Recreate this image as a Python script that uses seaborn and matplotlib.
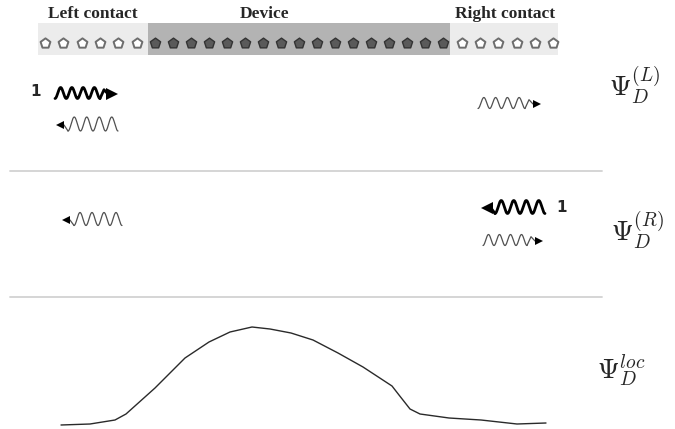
import numpy as np
import pandas as pd
import matplotlib
matplotlib.use("Agg")
import matplotlib.pyplot as plt
import seaborn as sns

# --- data (pixel coordinates) ---
left_atoms_x = [45, 63, 82, 100, 118, 137]
device_atoms_x = [155, 173, 191, 209, 227, 245, 263, 281, 299, 317, 335, 353, 371, 389, 407, 425, 443]
right_atoms_x = [462, 480, 498, 517, 535, 553]
atom_y = 43

region_labels = ["Left contact", "Device", "Right contact"]
region_label_x = [93, 265, 505]

curve_x = [61, 90, 115, 126, 155, 185, 209, 230, 252, 270, 291, 313, 338, 363,
           392, 399, 410, 420, 449, 481, 517, 546]
curve_y = [425, 424, 420, 414, 388, 358, 342, 332, 327, 329, 333, 340, 353, 367,
           386, 395, 409, 414, 418, 420, 424, 423]

psi_labels = [r"$\Psi_D^{(L)}$", r"$\Psi_D^{(R)}$", r"$\Psi_D^{loc}$"]
psi_x = [609, 611, 597]
psi_y = [85, 230, 371]

sep_y = [171, 297]

sns.set_theme(style="white")
plt.rcParams["mathtext.fontset"] = "cm"

fig = plt.figure(figsize=(6.75, 4.29), dpi=100)
ax = fig.add_axes([0, 0, 1, 1])
ax.set_xlim(0, 675)
ax.set_ylim(429, 0)
ax.axis("off")

# band behind the atoms
ax.axvspan(38, 148, ymin=1 - 55 / 429, ymax=1 - 23 / 429, color="#ececec", lw=0)
ax.axvspan(148, 450, ymin=1 - 55 / 429, ymax=1 - 23 / 429, color="#b3b3b3", lw=0)
ax.axvspan(450, 558, ymin=1 - 55 / 429, ymax=1 - 23 / 429, color="#ececec", lw=0)

atoms = pd.DataFrame({
    "x": left_atoms_x + device_atoms_x + right_atoms_x,
    "kind": ["contact"] * len(left_atoms_x) + ["device"] * len(device_atoms_x)
            + ["contact"] * len(right_atoms_x),
})
atoms["y"] = atom_y
sns.scatterplot(data=atoms[atoms.kind == "contact"], x="x", y="y", ax=ax,
                marker="p", s=55, color="white", edgecolor="#6e6e6e", linewidth=1.4)
sns.scatterplot(data=atoms[atoms.kind == "device"], x="x", y="y", ax=ax,
                marker="p", s=60, color="#5a5a5a", edgecolor="#333333", linewidth=1.0)

for lab, lx in zip(region_labels, region_label_x):
    ax.text(lx, 14, lab, ha="center", va="center", fontsize=12.5,
            family="Liberation Serif", fontweight="bold")

# separators
for sy in sep_y:
    ax.plot([10, 602], [sy, sy], color="#d2d2d2", lw=1.3)


def wave(x0, x1, yc, amp, direction, thick):
    # little squiggle glyph with an arrowhead
    t = np.linspace(0, 4 * 2 * np.pi, 200)
    wx = x0 + (x1 - x0) * t / t[-1]
    wy = yc + amp * np.cos(t)
    col = "black" if thick else "#505050"
    lw = 2.0 if thick else 0.9
    if direction > 0:
        ax.plot(wx, wy, color=col, lw=lw)
        tx = [x1, x1 + 4, x1 + 8]
        ty = [yc + amp, yc - amp * 0.6, yc + 1]
        ax.plot(tx, ty, color=col, lw=lw)
        ax.plot([x1 + 12], [yc + 1], marker=">", color="black",
                ms=8 if thick else 6, mew=0)
    else:
        ax.plot(wx, wy, color=col, lw=lw)
        ax.plot([x0 - 4, x0], [yc + 1, yc + amp], color=col, lw=lw)
        ax.plot([x0 - 8], [yc + 1], marker="<", color="black",
                ms=8 if thick else 6, mew=0)


wave(55, 100, 93, 5.5, 1, True)
wave(68, 118, 124, 7, -1, False)
wave(478, 525, 103, 5.5, 1, False)
wave(74, 122, 219, 6.5, -1, False)
wave(495, 545, 207, 6.5, -1, True)
wave(483, 527, 240, 5.5, 1, False)

ax.text(36, 91, "1", ha="center", va="center", fontsize=11, fontweight="bold")
ax.text(562, 207, "1", ha="center", va="center", fontsize=11, fontweight="bold")

for lab, px, py in zip(psi_labels, psi_x, psi_y):
    ax.text(px, py, lab, ha="left", va="center", fontsize=20)

curve = pd.DataFrame({"x": curve_x, "y": curve_y})
sns.lineplot(data=curve, x="x", y="y", ax=ax, color="#2a2a2a", lw=1.0, sort=False)
ax.set_xlim(0, 675)
ax.set_ylim(429, 0)
ax.axis("off")

fig.savefig("out.png", dpi=100)
